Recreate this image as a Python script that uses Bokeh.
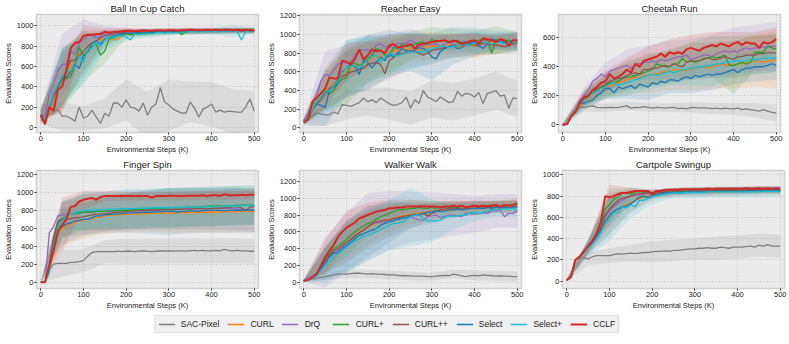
import numpy as np
from bokeh.plotting import figure
from bokeh.models import Legend, LegendItem, Range1d, FixedTicker
from bokeh.layouts import column, row
from bokeh.embed import file_html
from bokeh.resources import INLINE

STEPS = list(range(0, 501, 10))
BAND_STEPS = list(range(0, 501, 50))
METHODS = ["SAC-Pixel", "CURL", "DrQ", "CURL+", "CURL++", "Select", "Select+", "CCLF"]
COLORS = ["#7f7f7f", "#ff7f0e", "#9467bd", "#2ca02c", "#8c564b", "#1f77b4", "#17becf", "#d62728"]
X_TICKS = [0, 100, 200, 300, 400, 500]

# ---------------- Ball In Cup Catch ----------------
BALL_SAC = [130,110,130,140,180,110,110,90,60,200,
            90,110,170,100,40,140,110,240,240,200,
            270,200,190,160,240,120,200,230,390,250,
            220,180,160,140,140,250,190,100,180,200,
            230,150,170,150,160,155,150,150,200,280,
            160]
BALL_CURL = [110,70,150,280,380,460,520,600,640,720,
             740,800,830,850,860,870,880,870,860,910,
             920,920,925,930,930,935,930,935,940,940,
             940,945,940,945,945,940,945,950,945,950,
             945,950,950,945,950,950,955,950,950,955,
             950]
BALL_DRQ = [120,100,330,420,560,620,620,750,720,830,
            860,900,910,880,900,920,920,930,930,935,
            940,940,940,945,945,940,945,950,950,945,
            950,950,945,950,950,950,955,950,950,955,
            950,955,950,955,955,950,955,950,955,950,
            955]
BALL_CURLP = [110,70,170,300,390,470,480,500,610,790,
              700,740,800,820,710,750,870,880,900,910,
              920,910,920,930,920,920,930,940,940,930,
              940,940,950,910,940,945,945,950,945,950,
              950,945,950,950,955,950,950,955,950,955,
              950]
BALL_CURLPP = [120,60,200,300,400,480,560,660,660,700,
               750,800,830,850,880,900,910,920,930,935,
               940,940,945,940,945,945,950,945,950,950,
               950,950,950,945,950,950,955,950,950,955,
               950,955,955,950,955,955,950,955,955,955,
               950]
BALL_SELECT = [100,80,180,340,400,500,490,550,620,580,
               700,760,830,850,820,870,890,900,910,920,
               930,925,930,935,930,940,935,940,940,945,
               940,945,940,945,950,945,950,945,950,950,
               945,950,950,955,950,950,955,950,950,955,
               950]
BALL_SELECTP = [110,80,190,330,420,500,540,560,600,700,
                640,770,780,840,800,860,890,880,900,900,
                890,860,920,910,920,925,920,930,935,930,
                935,930,940,935,940,940,945,940,945,940,
                945,945,940,950,945,950,945,860,940,950,
                950]
BALL_CCLF = [120,30,200,160,370,400,560,780,830,840,
             900,910,910,915,920,940,930,940,940,945,
             950,950,945,950,955,950,950,955,955,950,
             955,955,950,955,955,960,955,955,955,960,
             955,960,955,960,960,955,960,955,960,955,
             955]
BALL_SAC_SD = [100,140,120,150,200,230,250,200,220,220,200]
BALL_CURL_SD = [60,280,180,60,30,25,25,25,25,25,25]
BALL_DRQ_SD = [60,300,200,80,40,30,30,30,30,30,30]
BALL_CURLP_SD = [60,300,250,120,40,30,30,30,30,30,30]
BALL_CURLPP_SD = [60,280,200,60,30,25,25,25,25,25,25]
BALL_SELECT_SD = [60,280,200,80,30,25,25,25,25,25,25]
BALL_SELECTP_SD = [60,280,220,100,40,40,30,30,30,60,30]
BALL_CCLF_SD = [60,250,100,40,25,20,20,20,20,20,20]

# ---------------- Reacher Easy ----------------
REACH_SAC = [60,90,130,160,150,140,140,170,150,250,
             240,230,250,270,320,280,300,270,320,290,
             260,240,250,270,330,210,300,260,400,330,
             310,280,330,300,270,280,390,340,370,360,
             330,380,260,370,380,400,340,350,210,320,
             310]
REACH_CURL = [70,110,220,280,320,400,430,480,500,560,
              610,640,660,680,700,700,740,770,750,790,
              810,840,820,850,840,860,840,830,870,870,
              880,870,880,850,900,880,860,880,900,900,
              870,910,920,930,920,900,920,910,910,930,
              930]
REACH_DRQ = [80,150,270,350,500,570,560,620,680,700,
             690,700,780,830,830,840,780,890,900,870,
             870,860,910,900,910,940,910,890,880,920,
             890,900,870,900,920,900,880,910,930,920,
             920,920,930,940,950,920,940,930,900,920,
             940]
REACH_CURLP = [70,100,250,280,330,400,360,400,480,520,
               540,700,690,670,690,740,780,850,830,780,
               760,860,850,900,870,880,900,910,920,890,
               950,920,930,940,920,940,910,920,910,930,
               920,940,950,950,800,940,950,930,940,920,
               930]
REACH_CURLPP = [60,80,200,250,300,370,420,450,520,550,
                570,600,610,630,640,680,690,700,680,580,
                720,750,800,790,810,830,820,800,780,800,
                830,840,850,860,870,880,880,890,890,900,
                890,880,910,900,890,890,880,870,880,900,
                910]
REACH_SELECT = [70,100,190,260,240,220,400,440,480,600,
                640,680,660,570,720,700,640,700,760,720,
                800,760,800,850,830,810,840,860,850,820,
                760,740,820,850,870,880,850,860,900,910,
                920,880,850,900,950,940,920,920,920,930,
                930]
REACH_SELECTP = [70,100,200,280,330,400,390,450,500,580,
                 640,660,670,640,690,720,760,780,700,760,
                 800,780,770,790,800,820,810,820,810,830,
                 850,860,870,880,860,870,880,890,900,880,
                 910,900,920,910,900,910,920,900,910,920,
                 920]
REACH_CCLF = [60,90,280,320,370,420,540,530,530,720,
              710,680,740,840,730,780,840,820,830,800,
              880,900,860,870,880,900,850,890,900,910,
              920,930,930,940,920,930,930,900,910,930,
              940,900,960,950,940,920,950,940,880,940,
              940]
REACH_SAC_SD = [40,120,150,150,170,180,200,200,200,200,200]
REACH_CURL_SD = [30,200,250,200,180,150,150,120,120,100,100]
REACH_DRQ_SD = [30,250,200,150,130,120,100,100,100,90,90]
REACH_CURLP_SD = [30,200,300,250,200,150,130,120,120,150,100]
REACH_CURLPP_SD = [30,180,250,250,200,180,150,120,120,100,100]
REACH_SELECT_SD = [30,200,300,300,250,200,250,200,150,100,100]
REACH_SELECTP_SD = [30,250,300,250,200,200,150,120,120,100,100]
REACH_CCLF_SD = [30,200,200,150,120,100,80,80,70,70,70]

# ---------------- Cheetah Run ----------------
CHEE_SAC = [0,5,60,100,120,120,125,130,120,118,
            118,120,118,120,125,130,115,120,118,125,
            120,115,120,118,115,118,120,112,115,110,
            120,118,115,118,115,112,115,110,115,112,
            110,115,105,110,105,100,95,105,95,85,
            80]
CHEE_CURL = [0,5,60,90,140,170,180,220,240,250,
             260,270,280,290,300,310,320,330,320,340,
             340,350,350,360,370,370,380,380,370,380,
             380,390,400,400,390,400,410,420,410,420,
             410,420,420,430,430,440,440,430,440,440,
             450]
CHEE_DRQ = [0,5,60,100,170,200,240,300,320,350,
            330,370,380,390,400,410,390,420,420,430,
            430,440,430,450,440,450,460,470,470,480,
            450,460,470,480,480,470,490,500,510,500,
            510,500,520,530,520,530,530,535,540,540,
            540]
CHEE_CURLP = [0,5,60,100,150,180,200,220,250,260,
              270,290,290,300,320,330,330,340,350,360,
              370,380,420,410,400,400,420,420,460,430,
              440,430,440,460,460,470,460,470,480,410,
              410,420,430,420,430,500,500,500,540,530,
              520]
CHEE_CURLPP = [0,5,60,100,160,180,200,220,240,260,
               280,300,310,320,320,340,350,360,350,380,
               380,390,390,400,410,400,420,410,400,430,
               440,440,440,450,460,450,450,460,470,460,
               450,470,470,480,480,480,490,490,495,495,
               495]
CHEE_SELECT = [0,5,60,100,150,150,160,170,200,220,
               250,250,220,260,250,260,270,250,280,270,
               260,290,280,300,290,310,310,300,320,330,
               320,340,330,340,350,340,350,350,360,370,
               380,360,380,390,390,400,400,400,410,420,
               410]
CHEE_SELECTP = [0,5,60,100,150,170,190,220,230,250,
                260,280,290,270,280,290,300,310,320,330,
                340,350,340,350,360,370,360,370,380,380,
                390,390,400,400,410,410,420,420,430,430,
                440,440,440,440,450,450,450,460,460,460,
                460]
CHEE_CCLF = [0,5,60,90,150,190,200,240,260,290,
             300,350,320,330,350,380,360,420,400,440,
             450,460,470,490,470,500,490,500,490,520,
             530,520,510,530,540,550,540,560,550,540,
             560,570,550,570,560,560,530,570,560,570,
             590]
CHEE_SAC_SD = [5,30,30,30,30,30,35,40,40,50,60]
CHEE_CURL_SD = [5,50,80,100,120,130,140,150,160,180,200]
CHEE_DRQ_SD = [5,60,100,110,120,130,140,150,160,160,170]
CHEE_CURLP_SD = [5,50,80,100,110,120,130,140,200,120,100]
CHEE_CURLPP_SD = [5,50,80,100,110,110,120,120,130,130,130]
CHEE_SELECT_SD = [5,50,70,80,90,90,100,100,100,100,100]
CHEE_SELECTP_SD = [5,50,80,90,100,100,120,150,100,100,100]
CHEE_CCLF_SD = [5,50,70,80,90,90,90,90,80,80,80]

# ---------------- Finger Spin ----------------
FING_SAC = [0,0,130,200,210,210,210,220,220,230,
            240,290,330,340,340,340,340,340,345,340,
            345,345,340,345,350,345,340,345,350,345,
            350,345,350,350,345,350,355,350,355,350,
            350,355,350,365,355,350,355,350,350,345,
            345]
FING_CURL = [0,0,120,350,550,600,630,650,670,680,
             690,700,710,720,730,740,745,750,750,755,
             760,760,760,760,765,765,765,770,770,770,
             770,770,775,775,775,775,780,780,780,780,
             780,780,785,785,785,785,790,790,790,790,
             790]
FING_DRQ = [0,0,550,620,740,750,760,760,770,770,
            780,780,780,790,790,790,790,790,800,800,
            800,800,800,805,805,810,810,810,810,810,
            815,815,815,815,820,820,820,820,820,820,
            820,825,820,825,820,820,815,815,810,805,
            800]
FING_CURLP = [0,0,150,450,650,700,740,760,770,770,
              780,780,785,790,790,790,795,795,800,800,
              800,805,810,810,815,820,820,820,825,825,
              830,830,830,835,835,840,840,840,845,845,
              850,850,850,850,855,855,860,860,860,860,
              860]
FING_CURLPP = [0,0,200,500,680,700,700,710,720,720,
               730,740,750,760,760,765,770,775,780,785,
               790,790,795,795,800,800,800,805,805,810,
               810,810,810,815,815,815,820,820,820,820,
               820,825,825,830,835,840,840,830,800,840,
               840]
FING_SELECT = [0,0,150,400,580,620,650,660,680,690,
               700,700,720,740,740,750,755,760,760,765,
               770,770,775,775,780,780,780,785,785,790,
               790,790,780,790,790,795,795,790,800,800,
               800,800,800,795,800,800,805,800,800,810,
               800]
FING_SELECTP = [0,0,100,400,600,680,730,760,780,790,
                800,800,800,810,810,810,815,815,815,820,
                820,820,820,825,825,825,830,830,830,830,
                830,835,835,835,835,840,840,840,840,840,
                840,845,845,845,850,850,850,855,855,860,
                860]
FING_CCLF = [0,0,180,350,560,640,700,840,850,900,
             920,930,940,920,950,960,960,960,960,965,
             960,965,960,965,960,960,945,960,960,960,
             965,965,960,960,965,965,965,965,970,960,
             970,970,965,980,970,970,970,975,970,975,
             975]
FING_SAC_SD = [5,150,130,130,140,140,140,140,140,140,140]
FING_CURL_SD = [5,200,200,200,200,200,220,220,230,230,230]
FING_DRQ_SD = [5,150,200,220,220,220,230,230,230,240,240]
FING_CURLP_SD = [5,200,200,200,200,200,220,220,220,220,220]
FING_CURLPP_SD = [5,200,200,200,200,200,200,200,200,200,200]
FING_SELECT_SD = [5,200,180,200,220,240,260,250,250,250,250]
FING_SELECTP_SD = [5,200,200,200,220,220,220,220,220,220,220]
FING_CCLF_SD = [5,300,100,60,50,50,50,50,50,50,50]

# ---------------- Walker Walk ----------------
WALK_SAC = [20,30,40,50,60,70,80,90,100,100,
            100,105,110,110,105,100,105,100,100,95,
            90,90,85,80,80,78,75,75,75,70,
            70,75,80,85,80,100,90,80,70,80,
            85,80,90,85,80,75,80,75,75,70,
            70]
WALK_CURL = [20,30,60,100,170,250,330,380,400,430,
             480,520,560,600,630,650,680,700,720,740,
             750,760,780,790,800,810,820,820,830,830,
             840,850,860,860,850,870,870,870,870,880,
             880,880,880,890,890,890,890,890,900,900,
             900]
WALK_DRQ = [20,60,80,110,170,240,310,350,380,420,
            470,510,560,590,620,660,690,710,710,720,
            740,740,750,760,770,780,760,740,740,780,
            790,800,770,780,800,800,790,780,820,820,
            810,820,830,820,850,850,860,780,820,820,
            850]
WALK_CURLP = [20,30,60,100,180,280,340,400,430,470,
              510,560,600,640,670,700,720,750,780,800,
              820,840,860,860,870,880,880,890,880,880,
              890,880,890,900,890,890,890,900,900,900,
              900,910,910,910,920,910,900,910,920,920,
              920]
WALK_CURLPP = [20,30,60,100,180,260,330,380,400,440,
               480,510,550,590,620,660,700,720,730,740,
               740,760,770,780,790,800,810,800,820,790,
               820,840,860,870,880,870,880,870,880,880,
               880,890,880,890,890,900,880,890,890,900,
               900]
WALK_SELECT = [20,30,50,90,160,230,300,350,350,400,
               440,480,520,560,580,600,620,640,680,700,
               720,730,750,760,770,790,800,810,820,830,
               840,850,840,850,860,860,870,860,870,880,
               880,880,880,890,880,890,890,900,880,890,
               900]
WALK_SELECTP = [20,30,50,80,140,200,250,300,340,380,
                420,460,490,520,550,560,580,600,630,650,
                680,700,700,720,740,780,800,810,750,730,
                730,730,740,770,790,780,790,800,800,830,
                830,820,830,850,860,860,870,870,880,880,
                860]
WALK_CCLF = [20,30,60,100,200,300,380,440,540,600,
             650,680,710,760,780,800,820,840,850,860,
             880,880,890,890,900,900,900,900,905,900,
             900,900,890,900,900,910,900,910,890,900,
             910,900,910,900,910,920,900,920,910,920,
             940]
WALK_SAC_SD = [10,40,50,50,50,50,50,50,60,60,60]
WALK_CURL_SD = [10,150,200,200,150,120,100,80,80,70,70]
WALK_DRQ_SD = [10,300,350,400,350,300,280,250,220,200,200]
WALK_CURLP_SD = [10,150,200,150,120,100,80,70,70,60,60]
WALK_CURLPP_SD = [10,150,250,250,200,150,120,100,80,70,70]
WALK_SELECT_SD = [10,200,300,300,250,150,100,80,80,70,70]
WALK_SELECTP_SD = [10,200,300,300,300,350,250,150,100,80,80]
WALK_CCLF_SD = [10,200,200,150,100,80,60,60,60,50,50]

# ---------------- Cartpole Swingup ----------------
CART_SAC = [10,50,200,220,220,210,230,240,240,240,
            240,250,260,255,260,265,260,265,270,270,
            275,280,280,285,280,290,290,295,300,305,
            305,310,310,315,310,310,320,315,310,320,
            320,320,325,330,320,340,330,345,330,330,
            330]
CART_CURL = [10,40,200,230,270,310,360,410,470,520,
             600,640,680,700,720,740,760,780,790,800,
             810,820,830,830,835,835,835,835,840,840,
             840,840,840,840,840,840,845,845,845,845,
             845,845,845,845,845,845,845,845,845,845,
             845]
CART_DRQ = [10,40,200,230,280,320,370,420,500,600,
            660,700,730,760,790,800,810,820,820,830,
            830,835,835,840,840,840,840,845,845,845,
            845,850,850,850,850,850,850,850,855,855,
            855,855,855,855,855,855,860,860,860,860,
            860]
CART_CURLP = [10,40,200,230,280,330,370,430,520,680,
              720,770,790,830,830,820,840,840,840,840,
              830,840,845,845,850,850,850,850,855,855,
              855,855,855,860,855,860,860,860,860,860,
              860,860,860,865,860,865,860,865,860,865,
              860]
CART_CURLPP = [10,40,200,230,280,320,370,430,500,620,
               680,720,760,780,790,800,820,820,830,830,
               830,835,835,840,840,840,845,845,845,850,
               850,850,850,850,850,855,855,855,855,855,
               855,855,855,855,860,860,860,860,860,860,
               860]
CART_SELECT = [10,40,200,230,270,320,360,420,480,560,
               620,660,680,700,710,730,760,790,800,790,
               810,820,825,830,830,835,835,835,840,840,
               840,840,840,845,845,845,845,845,845,845,
               845,845,850,850,850,850,850,850,850,855,
               855]
CART_SELECTP = [10,40,200,230,270,310,350,400,460,540,
                580,650,640,700,690,720,700,760,760,780,
                790,800,810,820,825,830,830,830,835,835,
                835,835,835,840,840,840,840,840,840,840,
                840,840,840,840,840,840,845,845,845,845,
                845]
CART_CCLF = [10,40,200,230,280,330,380,450,560,800,
             790,800,820,830,830,840,850,850,850,850,
             820,850,850,860,860,860,860,865,865,865,
             865,865,865,870,865,870,870,870,870,870,
             870,870,875,870,870,875,870,875,870,875,
             870]
CART_SAC_SD = [10,60,70,80,100,100,100,110,110,110,110]
CART_CURL_SD = [10,60,150,80,40,30,30,30,30,30,30]
CART_DRQ_SD = [10,60,150,80,40,30,30,30,30,30,30]
CART_CURLP_SD = [10,60,150,60,30,30,30,30,30,30,30]
CART_CURLPP_SD = [10,60,150,60,30,30,30,30,30,30,30]
CART_SELECT_SD = [10,70,180,80,40,40,40,40,40,40,40]
CART_SELECTP_SD = [10,80,200,120,60,50,50,50,50,50,50]
CART_CCLF_SD = [10,60,120,40,30,20,20,20,20,20,20]

PANELS = [
    ("Ball In Cup Catch",
     [BALL_SAC, BALL_CURL, BALL_DRQ, BALL_CURLP, BALL_CURLPP, BALL_SELECT, BALL_SELECTP, BALL_CCLF],
     [BALL_SAC_SD, BALL_CURL_SD, BALL_DRQ_SD, BALL_CURLP_SD, BALL_CURLPP_SD, BALL_SELECT_SD, BALL_SELECTP_SD, BALL_CCLF_SD],
     (-50, 1110), [0, 200, 400, 600, 800, 1000]),
    ("Reacher Easy",
     [REACH_SAC, REACH_CURL, REACH_DRQ, REACH_CURLP, REACH_CURLPP, REACH_SELECT, REACH_SELECTP, REACH_CCLF],
     [REACH_SAC_SD, REACH_CURL_SD, REACH_DRQ_SD, REACH_CURLP_SD, REACH_CURLPP_SD, REACH_SELECT_SD, REACH_SELECTP_SD, REACH_CCLF_SD],
     (-50, 1215), [0, 200, 400, 600, 800, 1000, 1200]),
    ("Cheetah Run",
     [CHEE_SAC, CHEE_CURL, CHEE_DRQ, CHEE_CURLP, CHEE_CURLPP, CHEE_SELECT, CHEE_SELECTP, CHEE_CCLF],
     [CHEE_SAC_SD, CHEE_CURL_SD, CHEE_DRQ_SD, CHEE_CURLP_SD, CHEE_CURLPP_SD, CHEE_SELECT_SD, CHEE_SELECTP_SD, CHEE_CCLF_SD],
     (-53, 760), [0, 200, 400, 600]),
    ("Finger Spin",
     [FING_SAC, FING_CURL, FING_DRQ, FING_CURLP, FING_CURLPP, FING_SELECT, FING_SELECTP, FING_CCLF],
     [FING_SAC_SD, FING_CURL_SD, FING_DRQ_SD, FING_CURLP_SD, FING_CURLPP_SD, FING_SELECT_SD, FING_SELECTP_SD, FING_CCLF_SD],
     (-71, 1246), [0, 200, 400, 600, 800, 1000, 1200]),
    ("Walker Walk",
     [WALK_SAC, WALK_CURL, WALK_DRQ, WALK_CURLP, WALK_CURLPP, WALK_SELECT, WALK_SELECTP, WALK_CCLF],
     [WALK_SAC_SD, WALK_CURL_SD, WALK_DRQ_SD, WALK_CURLP_SD, WALK_CURLPP_SD, WALK_SELECT_SD, WALK_SELECTP_SD, WALK_CCLF_SD],
     (-71, 1328), [0, 200, 400, 600, 800, 1000, 1200]),
    ("Cartpole Swingup",
     [CART_SAC, CART_CURL, CART_DRQ, CART_CURLP, CART_CURLPP, CART_SELECT, CART_SELECTP, CART_CCLF],
     [CART_SAC_SD, CART_CURL_SD, CART_DRQ_SD, CART_CURLP_SD, CART_CURLPP_SD, CART_SELECT_SD, CART_SELECTP_SD, CART_CCLF_SD],
     (-69, 1042), [0, 200, 400, 600, 800, 1000]),
]

FONT = "Liberation Sans"
FW, FH = 222, 118


def make_panel(title, series, bands, yr, yticks):
    p = figure(frame_width=FW, frame_height=FH, x_range=Range1d(-10, 510),
               y_range=Range1d(*yr), output_backend="svg", toolbar_location=None,
               min_border_left=4, min_border_right=5, min_border_top=0, min_border_bottom=0)
    p.title.text = title
    p.title.align = "center"
    p.title.text_font = FONT
    p.title.text_font_size = "9.5px"
    p.title.text_font_style = "normal"
    p.title.text_color = "#222222"
    p.title.standoff = 1
    p.background_fill_color = "#ebebeb"
    p.border_fill_color = "white"
    p.outline_line_color = "#cfcfcf"
    p.outline_line_width = 1.5
    p.grid.grid_line_color = "#b8b8b8"
    p.grid.grid_line_dash = "1 2"
    p.grid.grid_line_width = 0.8
    p.xaxis.ticker = FixedTicker(ticks=X_TICKS)
    p.yaxis.ticker = FixedTicker(ticks=yticks)
    p.xaxis.axis_label = "Environmental Steps (K)"
    p.yaxis.axis_label = "Evaluation Scores"
    for ax in (p.xaxis[0], p.yaxis[0]):
        ax.axis_line_color = None
        ax.major_tick_out = 2
        ax.major_tick_in = 0
        ax.major_tick_line_color = "#333333"
        ax.minor_tick_line_color = None
        ax.major_label_text_font = FONT
        ax.major_label_text_font_size = "7.5px"
        ax.major_label_text_color = "#222222"
        ax.major_label_standoff = 1
        ax.axis_label_text_font = FONT
        ax.axis_label_text_font_size = "7.5px"
        ax.axis_label_text_font_style = "normal"
        ax.axis_label_text_color = "#222222"
        ax.axis_label_standoff = 1
    for i, (s, sd) in enumerate(zip(series, bands)):
        assert len(s) == len(STEPS), (title, METHODS[i], len(s))
        assert len(sd) == len(BAND_STEPS), (title, METHODS[i], len(sd))
        c = np.array(s, dtype=float)[::5]
        hw = np.array(sd, dtype=float)
        p.varea(x=BAND_STEPS, y1=c - hw, y2=c + hw, fill_color=COLORS[i], fill_alpha=0.14)
    for i, s in enumerate(series):
        lw = 2.0 if METHODS[i] == "CCLF" else 1.3
        p.line(x=STEPS, y=s, line_color=COLORS[i], line_width=lw)
    return p


figs = [make_panel(*pn) for pn in PANELS]

lf = figure(width=773, height=24, output_backend="svg", toolbar_location=None,
            x_range=Range1d(0, 1), y_range=Range1d(0, 1),
            x_axis_location=None, y_axis_location=None, min_border=0)
lf.grid.visible = False
lf.outline_line_color = None
items = []
for i, m in enumerate(METHODS):
    # placeholder renderer outside the visible range, only used for the legend swatch
    r = lf.line(x=[5, 6], y=[5, 6], line_color=COLORS[i], line_width=2.0 if m == "CCLF" else 1.3)
    items.append(LegendItem(label=m, renderers=[r]))
leg = Legend(items=items, orientation="horizontal", location="center",
             label_text_font=FONT, label_text_font_size="8.5px", label_text_color="#222222",
             glyph_width=17, glyph_height=10, label_standoff=6, spacing=8, padding=3, margin=0,
             background_fill_color="#f0f0f0", background_fill_alpha=1.0,
             border_line_color="#cccccc", border_line_width=1, label_height=10)
lf.add_layout(leg, "center")

layout = column(row(*figs[:3]), row(*figs[3:]), lf)
open("out.html", "w").write(file_html(layout, INLINE))
